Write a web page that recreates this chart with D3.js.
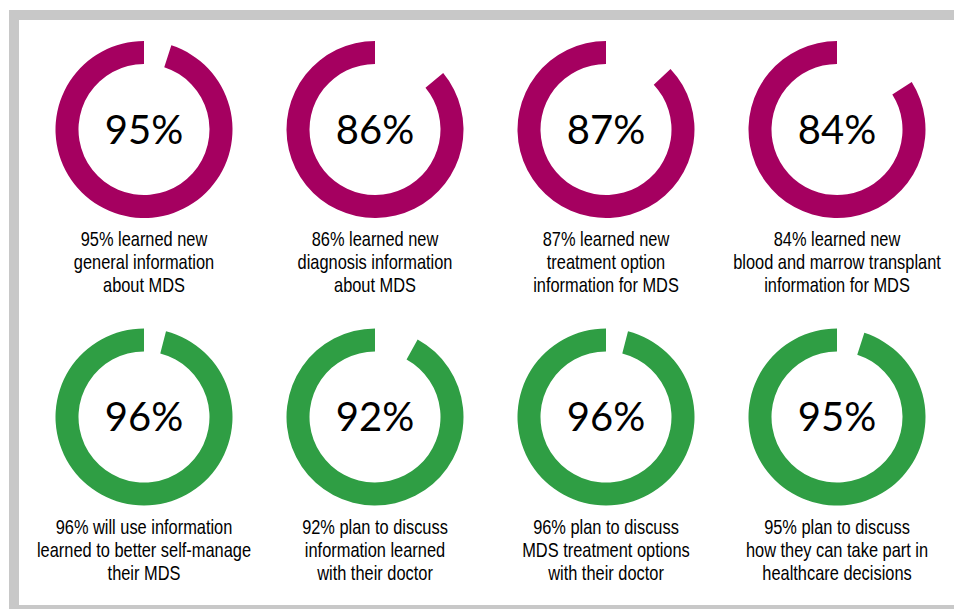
<!DOCTYPE html>
<html>
<head>
<meta charset="utf-8">
<script src="https://cdn.jsdelivr.net/npm/d3@7"></script>
<style>
  html, body { margin: 0; padding: 0; background: #ffffff; }
  svg { display: block; }
</style>
</head>
<body>
<svg id="chart" width="954" height="609"></svg>
<script>
// ---- data ----
const values = [95, 86, 87, 84, 96, 92, 96, 95];
const rowIndex = [0, 0, 0, 0, 1, 1, 1, 1];
const colIndex = [0, 1, 2, 3, 0, 1, 2, 3];
const rowColors = ["#a50060", "#2f9e44"];
const captions = [
  ["95% learned new", "general information", "about MDS"],
  ["86% learned new", "diagnosis information", "about MDS"],
  ["87% learned new", "treatment option", "information for MDS"],
  ["84% learned new", "blood and marrow transplant", "information for MDS"],
  ["96% will use information", "learned to better self-manage", "their MDS"],
  ["92% plan to discuss", "information learned", "with their doctor"],
  ["96% plan to discuss", "MDS treatment options", "with their doctor"],
  ["95% plan to discuss", "how they can take part in", "healthcare decisions"]
];

// ---- layout ----
const W = 954, H = 609;
const svg = d3.select("#chart");
svg.append("rect").attr("width", W).attr("height", H).attr("fill", "#ffffff");

// frame
const frame = "#c8c8c8";
svg.append("rect").attr("x", 9).attr("y", 10).attr("width", W - 9).attr("height", 10).attr("fill", frame);
svg.append("rect").attr("x", 9).attr("y", 10).attr("width", 10).attr("height", H - 10).attr("fill", frame);
svg.append("rect").attr("x", 9).attr("y", 605).attr("width", W - 9).attr("height", 4).attr("fill", frame);

const x = d3.scalePoint().domain([0, 1, 2, 3]).range([144, 837]);
const y = d3.scalePoint().domain([0, 1]).range([129.5, 417]);

const outerR = 88.5, innerR = 65.5;
const arc = d3.arc().innerRadius(innerR).outerRadius(outerR);
const pie = d3.pie().sort(null).value(d => d);

const cells = svg.selectAll("g.cell")
  .data(values.map((v, i) => ({ v, i })))
  .join("g")
  .attr("class", "cell")
  .attr("transform", d => `translate(${x(colIndex[d.i])},${y(rowIndex[d.i])})`);

cells.each(function(d) {
  const g = d3.select(this);
  const slices = pie([100 - d.v, d.v]);
  g.append("path")
    .attr("d", arc(slices[1]))
    .attr("fill", rowColors[rowIndex[d.i]]);

  g.append("text")
    .attr("x", 0)
    .attr("y", 14)
    .attr("text-anchor", "middle")
    .attr("font-family", "Lato, 'Open Sans', sans-serif")
    .attr("font-size", 40)
    .attr("fill", "#000")
    .text(d.v + "%");

  const t = g.append("text")
    .attr("transform", "scale(0.8,1)")
    .attr("text-anchor", "middle")
    .attr("font-family", "'Liberation Sans', Arial, sans-serif")
    .attr("font-size", 20.5)
    .attr("fill", "#000");
  captions[d.i].forEach((line, k) => {
    t.append("tspan")
      .attr("x", 0)
      .attr("y", 117 + k * 23)
      .text(line);
  });
});
</script>
</body>
</html>
